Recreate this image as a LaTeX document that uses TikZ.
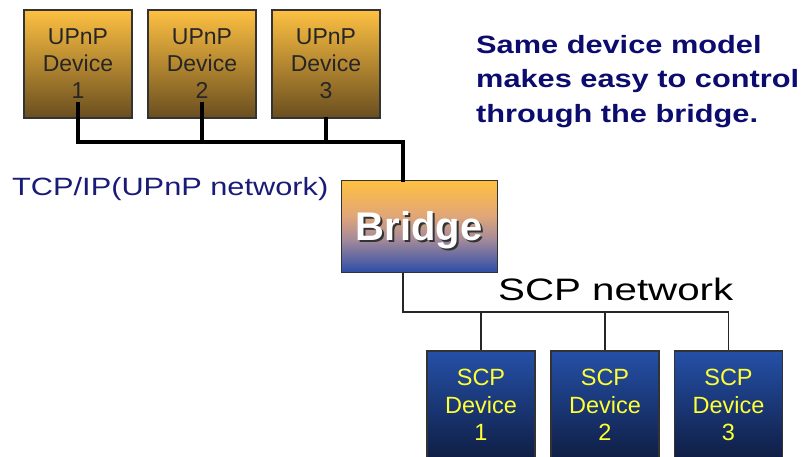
\documentclass[tikz,border=0pt]{standalone}
\usepackage{fontspec}
\usepackage{graphicx}
\setmainfont{Liberation Sans}
\definecolor{upnptop}{HTML}{FDC042}
\definecolor{upnpbot}{HTML}{6A4E1F}
\definecolor{scptop}{HTML}{2550A8}
\definecolor{scpbot}{HTML}{0F1E44}
\definecolor{brtop}{HTML}{FFC040}
\definecolor{brup}{HTML}{E0A678}
\definecolor{brmid}{HTML}{A88C9A}
\definecolor{brbot}{HTML}{2A4CA8}
\definecolor{navy}{HTML}{0C0C6E}
\definecolor{tcpblue}{HTML}{1A1A78}
\definecolor{boxedge}{HTML}{333333}
\definecolor{scptext}{HTML}{FFFF33}
% the path spans 25bp..75bp of the shading
\pgfdeclareverticalshading{bridgeshade}{100bp}{
  color(0bp)=(brbot); color(25bp)=(brbot); color(44bp)=(brmid);
  color(56bp)=(brup); color(75bp)=(brtop); color(100bp)=(brtop)}
\tikzset{
  devbox/.style={draw=boxedge, line width=1.3pt, inner sep=0pt,
    minimum width=108pt, minimum height=108pt, align=center},
  upnpbox/.style={devbox, top color=upnptop, bottom color=upnpbot,
    text=black!85, font=\fontsize{23}{27}\selectfont},
  scpbox/.style={devbox, top color=scptop, bottom color=scpbot,
    text=scptext, font=\fontsize{23.5}{27.5}\selectfont},
  bus/.style={line width=3.5pt, line cap=rect},
  thinbus/.style={line width=1.2pt, draw=black!85},
  rlabel/.style={anchor=base west, inner sep=0pt, text=navy,
    font=\bfseries\fontsize{25}{35}\selectfont}
}
\begin{document}
\begin{tikzpicture}[x=1pt,y=-1pt]
\useasboundingbox (0,0) rectangle (804,457);

% UPnP devices on the TCP/IP network
\node[upnpbox] (u1) at (78,64) {UPnP\\Device\\1};
\node[upnpbox] (u2) at (202,64) {UPnP\\Device\\2};
\node[upnpbox] (u3) at (326,64) {UPnP\\Device\\3};

% Bridge with a dropped shadow under its title
\node[draw=boxedge, line width=1pt, shading=bridgeshade, inner sep=0pt,
      minimum width=156pt, minimum height=92pt] (br) at (419,227) {};
\node[text=black!80, font=\bfseries\fontsize{40}{40}\selectfont, inner sep=0pt]
  (brs) at ([xshift=2pt,yshift=-5pt]br.center) {Bridge};
\node[text=white, font=\bfseries\fontsize{40}{40}\selectfont, inner sep=0pt]
  (brt) at ([yshift=-3pt]br.center) {Bridge};

% SCP devices
\node[scpbox] (s1) at (481,405) {SCP\\Device\\1};
\node[scpbox] (s2) at (605,405) {SCP\\Device\\2};
\node[scpbox] (s3) at (728.5,405) {SCP\\Device\\3};

% TCP/IP bus
\coordinate (busR) at (403,142);
\coordinate (brIn) at ([xshift=-16pt]br.north);
\draw[bus] ([yshift=15pt]u1.south) -- (u1.south |- busR) -- (busR) -- (brIn);
\draw[bus] ([yshift=15pt]u2.south) -- (u2.south |- busR);
\draw[bus] (u3.south) -- (u3.south |- busR);

% SCP bus
\coordinate (brOut) at ([xshift=-16pt]br.south);
\coordinate (scpL) at (403,312);
\draw[thinbus] (brOut) -- (scpL) -- (s3.north |- scpL) -- (s3.north);
\draw[thinbus] (s1.north |- scpL) -- (s1.north);
\draw[thinbus] (s2.north |- scpL) -- (s2.north);

% network labels
\node[anchor=base west, inner sep=0pt, text=tcpblue,
      font=\fontsize{25}{25}\selectfont] (tcp) at (12,196)
  {\scalebox{1.23}[1]{TCP/IP(UPnP network)}};
\node[anchor=base west, inner sep=0pt, text=black,
      font=\fontsize{31}{31}\selectfont] (scpnet) at (498,301)
  {\scalebox{1.3}[1]{SCP network}};

% remark
\node[rlabel] (r1) at (476,54) {\scalebox{1.23}[1]{Same device model}};
\node[rlabel] (r2) at (476,88) {\scalebox{1.23}[1]{makes easy to control}};
\node[rlabel] (r3) at (476,123) {\scalebox{1.23}[1]{through the bridge.}};
\end{tikzpicture}
\end{document}
